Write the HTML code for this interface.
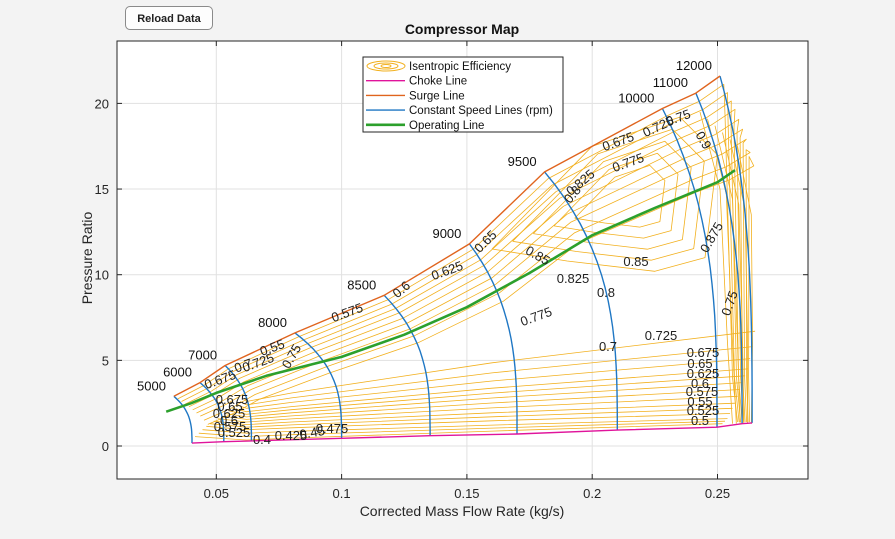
<!DOCTYPE html>
<html><head><meta charset="utf-8">
<style>
body{margin:0;background:#f3f3f3;font-family:"Liberation Sans",sans-serif;}
#wrap{position:relative;width:895px;height:539px;overflow:hidden;background:#f3f3f3;}
#btn{position:absolute;left:125px;top:6px;width:88px;height:24px;border:1px solid #8a8a8a;border-radius:5px;background:#fdfdfd;font:bold 11px "Liberation Sans",sans-serif;color:#222;text-align:center;line-height:24px;box-sizing:border-box;}
svg text{font-family:"Liberation Sans",sans-serif;}
</style></head><body>
<div id="wrap">
<div id="btn">Reload Data</div>
<svg id="chart" width="895" height="539" style="position:absolute;left:0;top:0"></svg>
</div>
<script>
// ---- data ----
const xTicks=[0.05,0.1,0.15,0.2,0.25];
const yTicks=[0,5,10,15,20];
const speeds=[5000,6000,7000,8000,8500,9000,9500,10000,11000,12000];
const surgeX=[0.0331,0.0435,0.0535,0.0814,0.117,0.151,0.181,0.228,0.2414,0.251];
const surgeY=[2.9,3.7,4.7,6.6,8.8,11.8,16.0,19.7,20.6,21.6];
const chokeX=[0.0403,0.053,0.064,0.1,0.1353,0.17,0.21,0.2498,0.2598,0.2638];
const chokeY=[0.17,0.25,0.3,0.45,0.6,0.7,0.93,1.1,1.3,1.35];
const opX=[0.03,0.04,0.05,0.07,0.1,0.125,0.15,0.175,0.2,0.225,0.25,0.257];
const opY=[2.0,2.5,3.1,4.1,5.2,6.5,8.1,10.1,12.3,13.9,15.4,16.1];
const fanLeftY=[0.35,0.55,0.75,0.95,1.1,1.25,1.4,1.55,1.7,1.85,2.0,2.2,2.4,2.6];
const fanRightY=[1.3,1.45,1.6,1.9,2.2,2.5,2.9,3.3,3.7,4.1,4.5,5.1,5.8,6.7];
const surgeOffsets=[0.25,0.5,0.75,1.0,1.3,1.6,1.9,2.3,2.7];
const loopScales=[1.0,0.85,0.7,0.55,0.4];
const effLabels=[["0.4",262,439,0],["0.425",291,435,0],["0.45",312,432,-10],["0.475",332,428,0],
["0.5",700,420,0],["0.525",703,410,0],["0.55",700,401,0],["0.575",702,391,0],["0.6",700,383,0],["0.625",703,373,0],["0.65",700,363,0],["0.675",703,352,0],
["0.7",608,346,0],["0.725",661,335,0],["0.75",729,303,-70],["0.775",536,316,-20],["0.8",606,292,0],["0.825",573,278,0],["0.85",636,261,0],["0.85",538,255,30],
["0.875",711,237,-60],["0.9",704,140,60],["0.75",291,356,-60],["0.725",258,362,-20],["0.7",243,365,-20],["0.675",220,379,-20],["0.55",272,347,-20],
["0.575",347,312,-20],["0.6",401,289,-40],["0.625",447,270,-20],["0.65",485,241,-45],["0.675",618,141,-20],["0.725",658,126,-25],["0.75",678,117,-20],
["0.775",628,162,-20],["0.825",580,182,-40],["0.8",572,194,-50],["0.675",232,399,0],["0.65",230,406,0],["0.625",229,413,0],["0.6",229,420,0],["0.575",230,426,0],["0.525",234,432,0]];
// ---- scales ----
const X=v=>91+v*2506, Y=v=>446-v*17.13;
const svg=document.getElementById('chart');const NS='http://www.w3.org/2000/svg';
function el(t,a,p){const e=document.createElementNS(NS,t);for(const k in a)e.setAttribute(k,a[k]);(p||svg).appendChild(e);return e;}
const L=117,R=808,T=41,B=479;
const ax=el('rect',{x:L,y:T,width:R-L,height:B-T,fill:'#fff'});


xTicks.forEach(v=>{const g=el('line',{x1:X(v),x2:X(v),y1:T,y2:B,stroke:'#e1e1e1'});


el('line',{x1:X(v),x2:X(v),y1:B,y2:B-5,stroke:'#262626'});el('line',{x1:X(v),x2:X(v),y1:T,y2:T+5,stroke:'#262626'});
const t=el('text',{x:X(v),y:B+19,'font-size':13,'text-anchor':'middle',fill:'#262626'});t.textContent=String(v);

});
yTicks.forEach(v=>{const g=el('line',{x1:L,x2:R,y1:Y(v),y2:Y(v),stroke:'#e1e1e1'});


el('line',{x1:L,x2:L+5,y1:Y(v),y2:Y(v),stroke:'#262626'});el('line',{x1:R,x2:R-5,y1:Y(v),y2:Y(v),stroke:'#262626'});
const t=el('text',{x:L-8,y:Y(v)+5,'font-size':13,'text-anchor':'end',fill:'#262626'});t.textContent=String(v);

});
function pl(pts,c,w,name){const p=el('polyline',{points:pts.map(q=>X(q[0]).toFixed(1)+','+Y(q[1]).toFixed(1)).join(' '),fill:'none',stroke:c,'stroke-width':w,'stroke-linejoin':'round'});

return p;}
const OR='#f2b01e';
// fan contours
fanLeftY.forEach((ly,i)=>{const lx=0.062, rx=0.252+0.001*i;const ry=fanRightY[i];
const pts=[[0.0415+0.0015*i,ly+0.2],[lx,ly],[0.08,ly+0.12*(ry-ly)],[0.16,ly+0.55*(ry-ly)],[rx,ry]];pl(pts,OR,0.8,'efficiency-contour');});
// surge-parallel contours
surgeOffsets.forEach((o,i)=>{const pts=[];for(let k=0;k<surgeX.length;k++){pts.push([surgeX[k]+0.0015*(i+1),surgeY[k]-o*(0.4+surgeY[k]/14)]);}
pts.push([0.253+0.0012*i,surgeY[9]-o-2]);pts.push([0.256+0.0008*i,4]);pts.push([0.258+0.0006*i,1.4]);pl(pts,OR,0.8,'efficiency-contour');});
// inner loops
loopScales.forEach(s=>{const cx=0.215,cy=14.5;const base=[[0.16,11.5],[0.2,17.5],[0.235,19.2],[0.25,17],[0.245,11],[0.225,10.2],[0.19,10.8]];
pl(base.concat([base[0]]).map(q=>[cx+(q[0]-cx)*s,cy+(q[1]-cy)*s]),OR,0.8,'efficiency-contour');});
// right steep lines
[0,1,2,3,4,5].forEach(i=>{pl([[0.243+0.003*i,19.5-0.4*i],[0.251+0.0025*i,15-0.3*i],[0.254+0.002*i,6],[0.256+0.0015*i,1.3]],OR,0.8,'efficiency-contour');});
// speed lines
speeds.forEach((s,i)=>{const pts=[];for(let k=0;k<=20;k++){const t=k/20;pts.push([surgeX[i]+(chokeX[i]-surgeX[i])*(1-Math.pow(1-t,3)),surgeY[i]+(chokeY[i]-surgeY[i])*t]);}
pl(pts,'#1f77c4',1.4,'speed-line-'+s);
const lb=el('text',{x:X(surgeX[i])-8,y:Y(surgeY[i])-6,'font-size':13,'text-anchor':'end',fill:'#111'});lb.textContent=String(s);

});
// choke & surge
pl(chokeX.map((x,i)=>[x,chokeY[i]]).filter((q,i)=>i==0||i>=1),'#e0149b',1.4,'choke-line');
pl(surgeX.map((x,i)=>[x,surgeY[i]]),'#e0641e',1.4,'surge-line');
pl(opX.map((x,i)=>[x,opY[i]]),'#2ca02c',2.6,'operating-line');
effLabels.forEach(a=>{const t=el('text',{x:a[1],y:a[2]+5,'font-size':13,'text-anchor':'middle',fill:'#222',transform:`rotate(${a[3]} ${a[1]} ${a[2]})`});t.textContent=a[0];

});
// frame
const fr=el('rect',{x:L,y:T,width:R-L,height:B-T,fill:'none',stroke:'#262626'});


// legend
const lg=el('g',{});


el('rect',{x:363,y:57,width:200,height:75,fill:'#fff',stroke:'#262626'},lg);
el('ellipse',{cx:386,cy:66,rx:19,ry:5,fill:'none',stroke:OR},lg);el('ellipse',{cx:386,cy:66,rx:12,ry:3,fill:'none',stroke:OR},lg);el('ellipse',{cx:386,cy:66,rx:5,ry:1.5,fill:'none',stroke:OR},lg);
const leg=[['Isentropic Efficiency',null,0],['Choke Line','#e0149b',1.4],['Surge Line','#e0641e',1.4],['Constant Speed Lines (rpm)','#1f77c4',1.4],['Operating Line','#2ca02c',2.6]];
leg.forEach((e,i)=>{const y=66+i*14.7;if(e[1])el('line',{x1:366,x2:405,y1:y,y2:y,stroke:e[1],'stroke-width':e[2]},lg);
const t=el('text',{x:409,y:y+4,'font-size':11.5,fill:'#111'},lg);t.textContent=e[0];

});
const ti=el('text',{x:462,y:34,'font-size':14,'font-weight':'bold','text-anchor':'middle',fill:'#111'});ti.textContent='Compressor Map';


const xl=el('text',{x:462,y:516,'font-size':14,'text-anchor':'middle',fill:'#262626'});xl.textContent='Corrected Mass Flow Rate (kg/s)';


const yl=el('text',{x:92,y:258,'font-size':14,'text-anchor':'middle',fill:'#262626',transform:'rotate(-90 92 258)'});yl.textContent='Pressure Ratio';


</script>
</body></html>
